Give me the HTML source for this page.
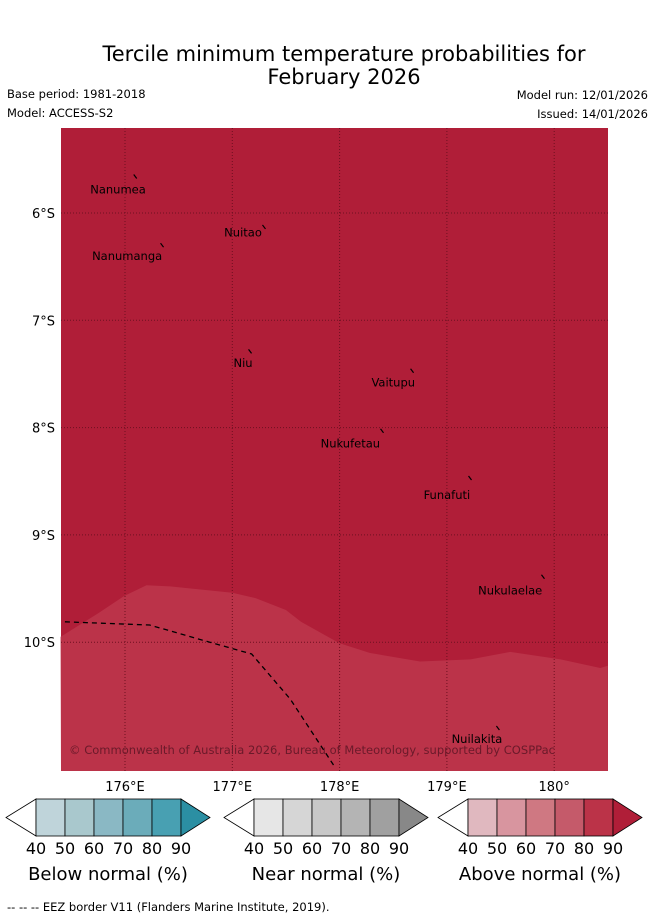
<!DOCTYPE html>
<html><head><meta charset="utf-8"><style>
body{margin:0;background:#fff;width:655px;height:919px;overflow:hidden;font-family:"DejaVu Sans","Liberation Sans",sans-serif}
svg{display:block}
</style></head><body>
<svg width="655" height="919" xmlns="http://www.w3.org/2000/svg" font-family="DejaVu Sans, Liberation Sans, sans-serif">
<text x="344" y="61" font-size="21" text-anchor="middle">Tercile minimum temperature probabilities for</text>
<text x="344" y="84" font-size="21" text-anchor="middle">February 2026</text>
<text x="7" y="98" font-size="11.5">Base period: 1981-2018</text>
<text x="7" y="117" font-size="11.5">Model: ACCESS-S2</text>
<text x="648" y="99" font-size="11.5" text-anchor="end">Model run: 12/01/2026</text>
<text x="648" y="118" font-size="11.5" text-anchor="end">Issued: 14/01/2026</text>
<g id="map"></g>
<g id="cbars"></g>
<text x="7" y="911" font-size="11.5">--  --  -- EEZ border V11 (Flanders Marine Institute, 2019).</text>
</svg>
<script>
const NS="http://www.w3.org/2000/svg";
const lonTicks=[176,177,178,179,180];
const latTicks=[6,7,8,9,10];
const boundaryLon=[175.4,175.75,175.99,176.2,176.42,177.0,177.22,177.5,177.64,178.0,178.28,178.75,179.22,179.59,180.06,180.43,180.5];
const boundaryLat=[9.95,9.73,9.57,9.47,9.48,9.54,9.59,9.70,9.81,10.01,10.10,10.18,10.16,10.09,10.16,10.24,10.22];
const eezLon=[175.44,176.23,176.79,177.18,177.54,177.96];
const eezLat=[9.81,9.84,10.0,10.11,10.53,11.17];
const islands=["Nanumea","Nuitao","Nanumanga","Niu","Vaitupu","Nukufetau","Funafuti","Nukulaelae","Nuilakita"];
const islLon=[176.1,177.3,176.35,177.17,178.68,178.4,179.22,179.9,179.48];
const islLat=[5.66,6.13,6.3,7.29,7.47,8.03,8.47,9.39,10.8];
const labLon=[175.935,177.1,176.02,177.1,178.5,178.1,179.0,179.59,179.28];
const labLat=[5.78,6.18,6.4,7.4,7.58,8.15,8.63,9.52,10.9];
const X=lon=>125+(lon-176)*107.3, Y=lat=>213+(lat-6)*107.3;
function el(t,a,p){const e=document.createElementNS(NS,t);for(const k in a)e.setAttribute(k,a[k]);p.appendChild(e);return e;}
const m=document.getElementById('map');
const bg=el('rect',{x:61,y:128,width:547,height:643,fill:'#b01e38'},m);

let d='M61,771 ';boundaryLon.forEach((l,i)=>{d+='L'+X(l).toFixed(1)+','+Y(boundaryLat[i]).toFixed(1)+' ';});d+='L608,771 Z';
const low=el('path',{d:d,fill:'#bb3349'},m);

lonTicks.forEach(l=>{const g=el('line',{x1:X(l),x2:X(l),y1:128,y2:771,stroke:'#6e1020','stroke-width':1,'stroke-dasharray':'1,2'},m);

const t=el('text',{x:X(l),y:791,'font-size':13,'text-anchor':'middle'},m);t.textContent=l+'°'+(l==180?'':'E');
});
latTicks.forEach(l=>{const g=el('line',{x1:61,x2:608,y1:Y(l),y2:Y(l),stroke:'#6e1020','stroke-width':1,'stroke-dasharray':'1,2'},m);

const t=el('text',{x:55,y:Y(l)+5,'font-size':13,'text-anchor':'end'},m);t.textContent=l+'°S';
});
const ez=el('polyline',{points:eezLon.map((l,i)=>X(l)+','+Y(eezLat[i])).join(' '),fill:'none',stroke:'#000','stroke-width':1.3,'stroke-dasharray':'5,4'},m);

islands.forEach((n,i)=>{const s=el('line',{x1:X(islLon[i])-2,y1:Y(islLat[i])-2,x2:X(islLon[i])+1,y2:Y(islLat[i])+2,stroke:'#000','stroke-width':1.2},m);

const t=el('text',{x:X(labLon[i]),y:Y(labLat[i])+4,'font-size':11.5,'text-anchor':'middle'},m);t.textContent=n;
});
const cp=el('text',{x:69,y:754,'font-size':11.5,fill:'#6a1a2a','textLength':486},m);cp.textContent='© Commonwealth of Australia 2026, Bureau of Meteorology, supported by COSPPac';

const cbColors=[["#bfd4da","#a9c8cd","#8ab8c4","#6bacba","#48a0b2","#2b8fa3"],["#e6e6e6","#d6d6d6","#c8c8c8","#b4b4b4","#a0a0a0","#888888"],["#e0b8bf","#d8959f","#cf7882","#c55a6a","#bb3348","#b01e38"]];
const cbTitles=["Below normal (%)","Near normal (%)","Above normal (%)"];
const cbTicks=[40,50,60,70,80,90];
const cbX=[36,254,468];
const cb=document.getElementById('cbars');
cbX.forEach((x0,k)=>{const g=el('g',{},cb);
const w=29,y0=799,h=37;
el('polygon',{points:`${x0},${y0} ${x0-30},${y0+h/2} ${x0},${y0+h}`,fill:'#fff',stroke:'#000','stroke-width':0.8},g);
for(let i=0;i<5;i++)el('rect',{x:x0+i*w,y:y0,width:w,height:h,fill:cbColors[k][i],stroke:'#000','stroke-width':0.8},g);
el('polygon',{points:`${x0+5*w},${y0} ${x0+5*w+29},${y0+h/2} ${x0+5*w},${y0+h}`,fill:cbColors[k][5],stroke:'#000','stroke-width':0.8},g);
cbTicks.forEach((v,i)=>{const t=el('text',{x:x0+i*w,y:854,'font-size':16,'text-anchor':'middle'},g);t.textContent=v;});
const t=el('text',{x:x0+72,y:880,'font-size':18,'text-anchor':'middle'},g);t.textContent=cbTitles[k];});
</script>
</body></html>
